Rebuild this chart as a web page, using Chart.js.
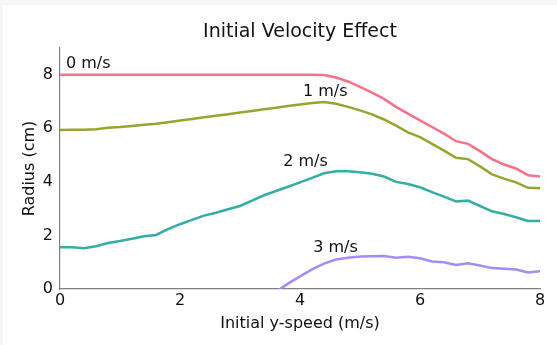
<!DOCTYPE html>
<html>
<head>
<meta charset="utf-8">
<script src="https://cdn.jsdelivr.net/npm/chart.js@4"></script>
<style>
  html, body { margin: 0; padding: 0; background: #f6f7f9; }
  #wrap { position: absolute; left: 3px; top: 5px; width: 554px; height: 340px; background: #fff; }
</style>
</head>
<body>
<div id="wrap"><canvas id="myChart" width="554" height="340"></canvas></div>
<script>
// y-speed values (m/s)
const speeds = [0, 0.2, 0.4, 0.6, 0.8, 1.0, 1.2, 1.4, 1.6, 1.8, 2.0, 2.2, 2.4, 2.6, 2.8, 3.0, 3.2, 3.4, 3.6, 3.8,
  4.0, 4.2, 4.4, 4.6, 4.8, 5.0, 5.2, 5.4, 5.6, 5.8, 6.0, 6.2, 6.4, 6.6, 6.8, 7.0, 7.2, 7.4, 7.6, 7.8, 8.0];

// radius (cm) for each initial x-speed
const r0 = [8, 8, 8, 8, 8, 8, 8, 8, 8, 8, 8, 8, 8, 8, 8, 8, 8, 8, 8, 8,
  8, 8, 7.99, 7.9, 7.75, 7.55, 7.33, 7.1, 6.8, 6.55, 6.3, 6.05, 5.8, 5.52, 5.42, 5.15, 4.85, 4.65, 4.5, 4.25, 4.2];
const r1 = [5.94, 5.95, 5.95, 5.97, 6.02, 6.05, 6.09, 6.13, 6.17, 6.23, 6.29, 6.35, 6.41, 6.47, 6.53, 6.59, 6.65, 6.71, 6.77, 6.83,
  6.89, 6.95, 6.98, 6.92, 6.8, 6.67, 6.52, 6.33, 6.1, 5.85, 5.67, 5.42, 5.17, 4.9, 4.85, 4.58, 4.28, 4.12, 3.98, 3.78, 3.76];
const r2 = [1.56, 1.56, 1.52, 1.6, 1.72, 1.79, 1.88, 1.97, 2.02, 2.24, 2.42, 2.58, 2.74, 2.85, 2.98, 3.1, 3.3, 3.5, 3.66, 3.82,
  3.98, 4.15, 4.32, 4.4, 4.4, 4.36, 4.3, 4.2, 4.0, 3.92, 3.8, 3.62, 3.45, 3.27, 3.3, 3.1, 2.9, 2.8, 2.68, 2.54, 2.54];
const r3 = [null, null, null, null, null, null, null, null, null, null, null, null, null, null, null, null, null, null, -0.1, 0.2,
  0.47, 0.73, 0.95, 1.1, 1.17, 1.21, 1.22, 1.23, 1.17, 1.2, 1.15, 1.03, 1.0, 0.9, 0.96, 0.88, 0.78, 0.76, 0.73, 0.62, 0.66];

const seriesNames = ["0 m/s", "1 m/s", "2 m/s", "3 m/s"];
const colors = ["#f77189", "#97a431", "#36ada4", "#a48cf4"];
// where each line's text label sits (data units)
const labelX = [0.1, 4.05, 3.72, 4.22];
const labelY = [8.41, 7.36, 4.75, 1.53];

const xTicks = [0, 2, 4, 6, 8];
const yTicks = [0, 2, 4, 6, 8];

const FONT = "'DejaVu Sans', sans-serif";
const INK = "#111";
const TITLE = "Initial Velocity Effect";

function pts(ys) {
  return speeds.map((x, i) => ({ x: x, y: ys[i] }));
}

const allR = [r0, r1, r2, r3];
const datasets = allR.map((ys, i) => ({
  label: seriesNames[i],
  data: pts(ys),
  borderColor: colors[i],
  borderWidth: 2.5,
  pointRadius: 0,
  tension: 0,
  spanGaps: false
}));

// title over the plot area + the "n m/s" text next to each line
const lineLabels = {
  id: 'lineLabels',
  afterDatasetsDraw(chart) {
    const ctx = chart.ctx;
    const xs = chart.scales.x, ys = chart.scales.y;
    const area = chart.chartArea;
    ctx.save();
    ctx.fillStyle = INK;
    ctx.textBaseline = "middle";

    ctx.font = "19px " + FONT;
    ctx.textAlign = "center";
    ctx.fillText(TITLE, (area.left + area.right) / 2, 27);

    ctx.font = "16px " + FONT;
    ctx.textAlign = "left";
    seriesNames.forEach((name, i) => {
      ctx.fillText(name, xs.getPixelForValue(labelX[i]), ys.getPixelForValue(labelY[i]));
    });
    ctx.restore();
  }
};

const config = {
  type: 'line',
  data: { datasets: datasets },
  options: {
    responsive: false,
    animation: false,
    layout: { padding: { left: 0, right: 17, top: 43, bottom: 0 } },
    plugins: {
      legend: { display: false },
      tooltip: { enabled: false },
      title: { display: false }
    },
    scales: {
      x: {
        type: 'linear',
        min: 0, max: 8,
        afterBuildTicks: s => { s.ticks = xTicks.map(v => ({ value: v })); },
        afterFit: s => { s.height = 56; },
        grid: { display: false, drawTicks: false },
        border: { display: true, color: '#808080', width: 1.2 },
        ticks: { color: INK, font: { family: FONT, size: 16 }, padding: 2, maxRotation: 0 },
        title: { display: true, text: 'Initial y-speed (m/s)', color: INK, font: { family: FONT, size: 16 }, padding: { top: 0, bottom: 12 } }
      },
      y: {
        min: 0, max: 9,
        afterBuildTicks: s => { s.ticks = yTicks.map(v => ({ value: v })); },
        afterFit: s => { s.width = 57; },
        grid: { display: false, drawTicks: false },
        border: { display: true, color: '#808080', width: 1.2 },
        ticks: { color: INK, font: { family: FONT, size: 16 }, padding: 7 },
        title: { display: true, text: 'Radius (cm)', color: INK, font: { family: FONT, size: 16 }, padding: { top: 17, bottom: 0 } }
      }
    }
  },
  plugins: [lineLabels]
};

const myChart = new Chart(document.getElementById('myChart'), config);
</script>
</body>
</html>
